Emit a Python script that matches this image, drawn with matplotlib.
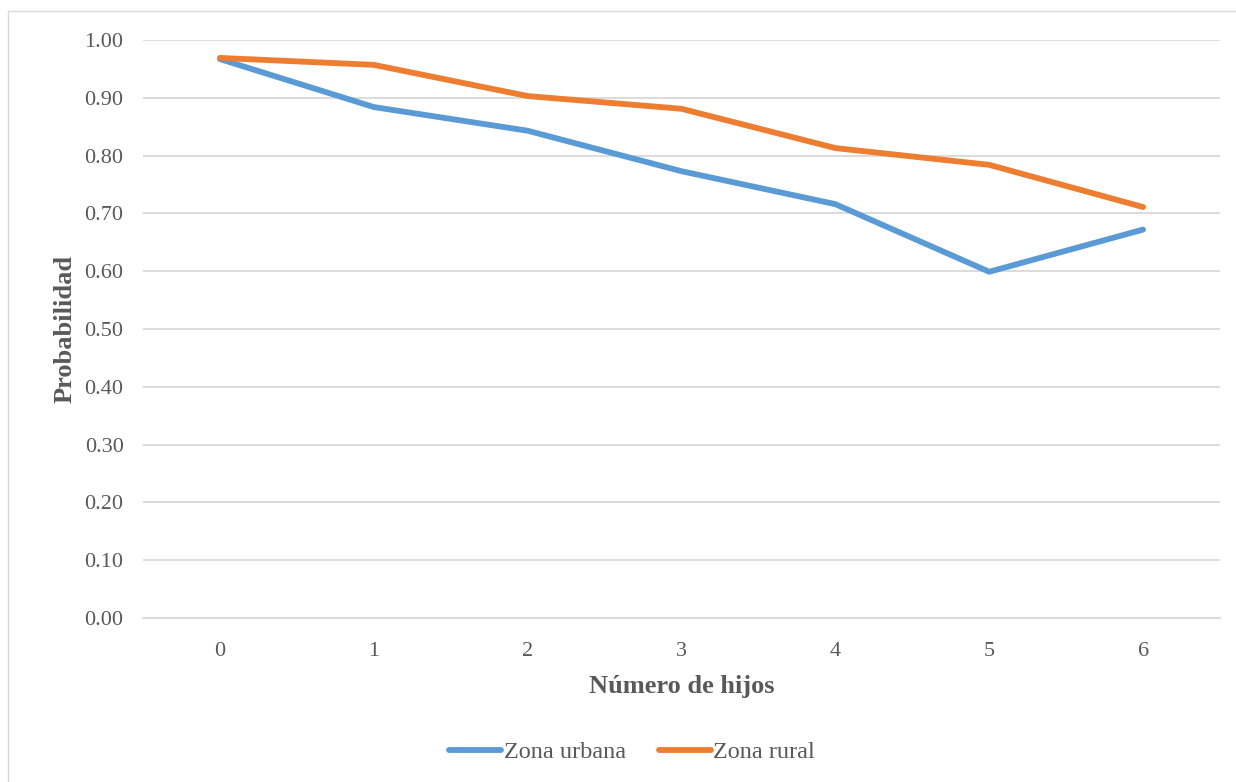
import matplotlib
matplotlib.use("Agg")
from matplotlib import pyplot as plt
from matplotlib.patches import Rectangle

# probability by number of children
hijos = [0, 1, 2, 3, 4, 5, 6]
zona_urbana = [0.967, 0.884, 0.843, 0.773, 0.716, 0.599, 0.672]
zona_rural = [0.969, 0.957, 0.903, 0.881, 0.813, 0.784, 0.711]
y_ticks = [0.0, 0.1, 0.2, 0.3, 0.4, 0.5, 0.6, 0.7, 0.8, 0.9, 1.0]

plt.rcParams['font.family'] = ['Liberation Serif', 'DejaVu Serif']
text_color = '#595959'
grid_color = '#d9d9d9'

fig = plt.figure(figsize=(12.36, 7.82), dpi=100)
fig.patches.append(Rectangle((8 / 1236, -0.01), 1.02, 1 - 11 / 782 + 0.01,
                             transform=fig.transFigure, fill=False,
                             ec=grid_color, lw=1.0))

ax = fig.add_axes([143 / 1236, 1 - 618 / 782, (1220 - 143) / 1236, (618 - 40) / 782])
ax.plot(hijos, zona_urbana, c='#5b9bd5', lw=4.2, solid_capstyle='round',
        solid_joinstyle='round', label='Zona urbana')
ax.plot(hijos, zona_rural, c='#ed7d31', lw=4.2, solid_capstyle='round',
        solid_joinstyle='round', label='Zona rural')

ax.set_xlim(-0.5, 6.5)
ax.set_ylim(0, 1.0)
ax.set_xticks(hijos)
ax.set_xticklabels([str(h) for h in hijos])
ax.set_yticks(y_ticks)
ax.set_yticklabels(['%.2f' % v for v in y_ticks])
ax.grid(axis='y', color=grid_color, lw=1.3)
ax.set_axisbelow(True)
for side in ['top', 'right', 'left']:
    ax.spines[side].set_visible(False)
ax.spines['bottom'].set_color(grid_color)
ax.spines['bottom'].set_linewidth(1.3)
ax.tick_params(length=0, labelsize=16, colors=text_color)
ax.tick_params(axis='x', pad=17.5)
ax.tick_params(axis='y', pad=14)

ax.set_xlabel('Número de hijos', fontsize=19, fontweight='bold', color=text_color, labelpad=10)
ax.set_ylabel('Probabilidad', fontsize=19, fontweight='bold', color=text_color, labelpad=6)

# legend centred in the chart area, below the plot
fig.legend(*ax.get_legend_handles_labels(), loc='center',
           bbox_to_anchor=(632 / 1236, 1 - 752 / 782), ncol=2, frameon=False,
           fontsize=17.5, labelcolor=text_color, handlelength=2.15, handletextpad=0.1,
           columnspacing=1.35)

fig.savefig('out.png', dpi=100)
